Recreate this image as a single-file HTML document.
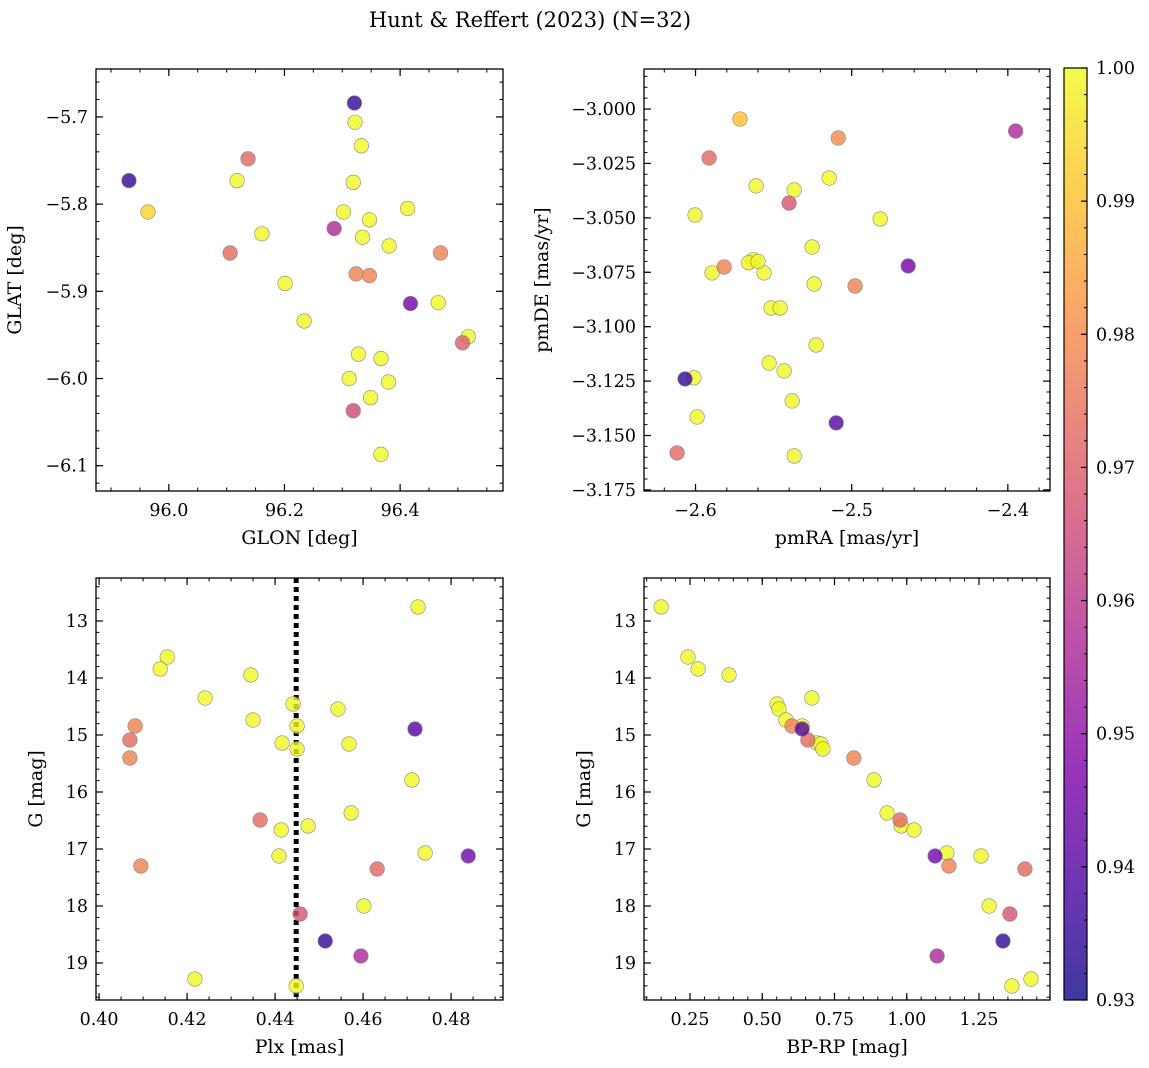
<!DOCTYPE html>
<html><head><meta charset="utf-8"><style>
body{margin:0;background:#fff}
svg{display:block;font-family:"DejaVu Serif","Liberation Serif",serif}
</style></head><body>
<svg id="fig" width="1149" height="1068" xmlns="http://www.w3.org/2000/svg">
<defs><linearGradient id="plasma" x1="0" y1="1" x2="0" y2="0">
<stop offset="0" stop-color="#0d0887"/><stop offset="0.125" stop-color="#4c02a1"/><stop offset="0.25" stop-color="#7e03a8"/><stop offset="0.375" stop-color="#a92395"/><stop offset="0.5" stop-color="#cc4778"/><stop offset="0.625" stop-color="#e66c5c"/><stop offset="0.75" stop-color="#f89540"/><stop offset="0.875" stop-color="#fdc527"/><stop offset="1" stop-color="#f0f921"/>
</linearGradient></defs>
<text x="530" y="27" font-size="21" text-anchor="middle">Hunt &amp; Reffert (2023) (N=32)</text>
</svg>
<script>
// Panel 1: GLON/GLAT
const glon=[96.321,96.322,96.333,96.137,95.931,96.118,96.319,95.964,96.302,96.413,96.347,96.161,96.106,96.286,96.335,96.381,96.470,96.324,96.347,96.201,96.418,96.466,96.234,96.518,96.508,96.328,96.367,96.380,96.312,96.349,96.319,96.367];
const glat=[-5.684,-5.706,-5.733,-5.748,-5.773,-5.773,-5.775,-5.809,-5.809,-5.805,-5.818,-5.834,-5.856,-5.828,-5.838,-5.848,-5.856,-5.880,-5.882,-5.891,-5.914,-5.913,-5.934,-5.952,-5.959,-5.972,-5.977,-6.004,-6.000,-6.022,-6.037,-6.087];
const prob1=[0.935,1,1,0.972,0.935,1,1,0.993,1,1,1,1,0.973,0.957,1,1,0.978,0.978,0.978,1,0.945,1,1,1,0.970,1,1,1,1,1,0.965,1];
// Panel 2: proper motions
const pmra=[-2.395,-2.5715,-2.5086,-2.5913,-2.5144,-2.5612,-2.5368,-2.5401,-2.6003,-2.4817,-2.5253,-2.5631,-2.5660,-2.5817,-2.5894,-2.5561,-2.4638,-2.5240,-2.4978,-2.5516,-2.5458,-2.5228,-2.5529,-2.5433,-2.6010,-2.6067,-2.5381,-2.5990,-2.5099,-2.6118,-2.5368,-2.5600];
const pmde=[-3.0101,-3.0046,-3.0133,-3.0225,-3.0317,-3.0353,-3.0372,-3.0432,-3.0487,-3.0505,-3.0634,-3.0693,-3.0706,-3.0726,-3.0753,-3.0753,-3.0721,-3.0804,-3.0813,-3.0914,-3.0914,-3.1084,-3.1167,-3.1203,-3.1235,-3.1240,-3.1341,-3.1415,-3.1442,-3.1580,-3.1594,-3.0700];
const prob2=[0.957,0.990,0.980,0.972,1,1,1,0.968,1,1,1,1,1,0.978,1,1,0.945,1,0.978,1,1,1,1,1,1,0.935,1,1,0.940,0.972,1,1];
// Panels 3/4: photometry
const plx=[0.4725,0.4155,0.4139,0.4345,0.4241,0.4441,0.4543,0.4350,0.4082,0.4450,0.4718,0.4070,0.4416,0.4568,0.4450,0.4070,0.4711,0.4573,0.4366,0.4475,0.4414,0.4741,0.4409,0.4839,0.4095,0.4632,0.4602,0.4457,0.4514,0.4595,0.4218,0.4448];
const bprp=[0.150,0.243,0.278,0.385,0.672,0.551,0.558,0.582,0.603,0.638,0.638,0.658,0.689,0.703,0.710,0.817,0.887,0.932,0.977,0.981,1.025,1.139,1.257,1.098,1.146,1.409,1.285,1.357,1.333,1.105,1.430,1.364];
const gmag=[12.754,13.632,13.842,13.947,14.351,14.456,14.544,14.737,14.842,14.842,14.895,15.088,15.140,15.158,15.246,15.404,15.789,16.368,16.491,16.596,16.667,17.070,17.123,17.123,17.298,17.351,18.0,18.140,18.614,18.877,19.281,19.404];
const prob3=[1,1,1,1,1,1,1,1,0.978,1,0.940,0.973,1,1,1,0.978,1,1,0.973,1,1,1,1,0.945,0.978,0.972,1,0.968,0.935,0.957,1,1];
const plxMean=0.4448;
const cbTicks=[0.93,0.94,0.95,0.96,0.97,0.98,0.99,1.00];

const NS="http://www.w3.org/2000/svg";
const svg=document.getElementById('fig');
function mk(t,a,p){const e=document.createElementNS(NS,t);for(const k in a)e.setAttribute(k,a[k]);(p||svg).appendChild(e);return e;}
const stops=[[13,8,135],[76,2,161],[126,3,168],[169,35,149],[204,71,120],[230,108,92],[248,149,64],[253,197,39],[240,249,33]];
function plasma(p){let t=Math.max(0,Math.min(1,(p-0.93)/0.07))*8;let i=Math.min(7,Math.floor(t)),f=t-i;const a=stops[i],b=stops[i+1];return 'rgb('+a.map((v,k)=>Math.round(v+(b[k]-v)*f)).join(',')+')';}
function fmt(v,d){return (v<0?'\u2212':'')+Math.abs(v).toFixed(d);}
const TF=17.5, LF=19;

function panel(o){
  const g=mk('g',{});
  
  
  const X=v=>o.L+(v-o.x0)/(o.x1-o.x0)*(o.R-o.L);
  const Y=o.inv?(v=>o.T+(v-o.y0)/(o.y1-o.y0)*(o.B-o.T)):(v=>o.B-(v-o.y0)/(o.y1-o.y0)*(o.B-o.T));
  for(let v=Math.ceil(o.x0/o.xm-1e-6)*o.xm;v<=o.x1+1e-9;v+=o.xm){const x=X(v);mk('line',{x1:x,x2:x,y1:o.B,y2:o.B-3.5,stroke:'#000','stroke-width':1},g);mk('line',{x1:x,x2:x,y1:o.T,y2:o.T+3.5,stroke:'#000','stroke-width':1},g);}
  const ylo=Math.min(o.y0,o.y1),yhi=Math.max(o.y0,o.y1);
  for(let v=Math.ceil(ylo/o.ym-1e-6)*o.ym;v<=yhi+1e-9;v+=o.ym){const y=Y(v);mk('line',{x1:o.L,x2:o.L+3.5,y1:y,y2:y,stroke:'#000','stroke-width':1},g);mk('line',{x1:o.R,x2:o.R-3.5,y1:y,y2:y,stroke:'#000','stroke-width':1},g);}
  o.xt.forEach(v=>{const x=X(v);mk('line',{x1:x,x2:x,y1:o.B,y2:o.B-7,stroke:'#000','stroke-width':1.2},g);mk('line',{x1:x,x2:x,y1:o.T,y2:o.T+7,stroke:'#000','stroke-width':1.2},g);
    const t=mk('text',{x:x,y:o.B+25,'font-size':TF,'text-anchor':'middle'},g);t.textContent=fmt(v,o.xd);
    
    });
  o.yt.forEach(v=>{const y=Y(v);mk('line',{x1:o.L,x2:o.L+7,y1:y,y2:y,stroke:'#000','stroke-width':1.2},g);mk('line',{x1:o.R,x2:o.R-7,y1:y,y2:y,stroke:'#000','stroke-width':1.2},g);
    const t=mk('text',{x:o.L-8,y:y+6,'font-size':TF,'text-anchor':'end'},g);t.textContent=fmt(v,o.yd);
    
    });
  if(o.vline!==undefined){const l=mk('line',{x1:X(o.vline),x2:X(o.vline),y1:o.T,y2:o.B,stroke:'#000','stroke-width':5,'stroke-dasharray':'5,4'},g);
    
    }
  const idx=o.xs.map((_,i)=>i).sort((a,b)=>o.c[b]-o.c[a]);
  idx.forEach(i=>{const c=mk('circle',{cx:X(o.xs[i]),cy:Y(o.ys[i]),r:7.3,fill:plasma(o.c[i]),'fill-opacity':0.8,stroke:'#888','stroke-width':0.6},g);
    
    });
  mk('rect',{x:o.L,y:o.T,width:o.R-o.L,height:o.B-o.T,fill:'none',stroke:'#000','stroke-width':1.3},g);
  const xl=mk('text',{x:(o.L+o.R)/2,y:o.B+53,'font-size':LF,'text-anchor':'middle'},g);xl.textContent=o.xlab;
  
  
  const cx=o.L-o.ylo,cy=(o.T+o.B)/2;
  const yl=mk('text',{x:cx,y:cy,'font-size':LF,'text-anchor':'middle',transform:'rotate(-90 '+cx+' '+cy+')'},g);yl.textContent=o.ylab;
  
  
}
panel({name:'glon-glat-panel',L:96,R:503,T:69,B:491,x0:95.874,x1:96.578,y0:-6.129,y1:-5.645,xt:[96.0,96.2,96.4],xd:1,yt:[-5.7,-5.8,-5.9,-6.0,-6.1],yd:1,xm:0.05,ym:0.02,xs:glon,ys:glat,c:prob1,xlab:'GLON [deg]',ylab:'GLAT [deg]',ylo:75});
panel({name:'proper-motion-panel',L:644,R:1050,T:69,B:491,x0:-2.633,x1:-2.373,y0:-3.1755,y1:-2.9816,xt:[-2.6,-2.5,-2.4],xd:1,yt:[-3.0,-3.025,-3.05,-3.075,-3.1,-3.125,-3.15,-3.175],yd:3,xm:0.02,ym:0.005,xs:pmra,ys:pmde,c:prob2,xlab:'pmRA [mas/yr]',ylab:'pmDE [mas/yr]',ylo:96});
panel({name:'parallax-panel',L:96,R:503,T:578,B:1000,x0:0.3993,x1:0.4918,y0:12.246,y1:19.649,inv:true,xt:[0.40,0.42,0.44,0.46,0.48],xd:2,yt:[13,14,15,16,17,18,19],yd:0,xm:0.005,ym:0.2,xs:plx,ys:gmag,c:prob3,xlab:'Plx [mas]',ylab:'G [mag]',ylo:54,vline:plxMean});
panel({name:'cmd-panel',L:644,R:1050,T:578,B:1000,x0:0.0908,x1:1.4957,y0:12.246,y1:19.649,inv:true,xt:[0.25,0.5,0.75,1.0,1.25],xd:2,yt:[13,14,15,16,17,18,19],yd:0,xm:0.05,ym:0.2,xs:bprp,ys:gmag,c:prob3,xlab:'BP-RP [mag]',ylab:'G [mag]',ylo:54});
// colorbar
const cb=mk('g',{});


const cT=68,cB=1000,cL=1064,cR=1087;
const CY=v=>cB-(v-0.93)/0.07*(cB-cT);
mk('rect',{x:cL,y:cT,width:cR-cL,height:cB-cT,fill:'url(#plasma)','fill-opacity':0.8},cb);
mk('rect',{x:cL,y:cT,width:cR-cL,height:cB-cT,fill:'none',stroke:'#000','stroke-width':1.2},cb);
for(let v=0.93;v<=1.0001;v+=0.002){const y=CY(v);mk('line',{x1:cR,x2:cR-3,y1:y,y2:y,stroke:'#000','stroke-width':1},cb);}
cbTicks.forEach(v=>{const y=CY(v);mk('line',{x1:cR,x2:cR-6,y1:y,y2:y,stroke:'#000','stroke-width':1.2},cb);
  const t=mk('text',{x:cR+9,y:y+6,'font-size':TF},cb);t.textContent=v.toFixed(2);
  
  });
</script>
</body></html>
